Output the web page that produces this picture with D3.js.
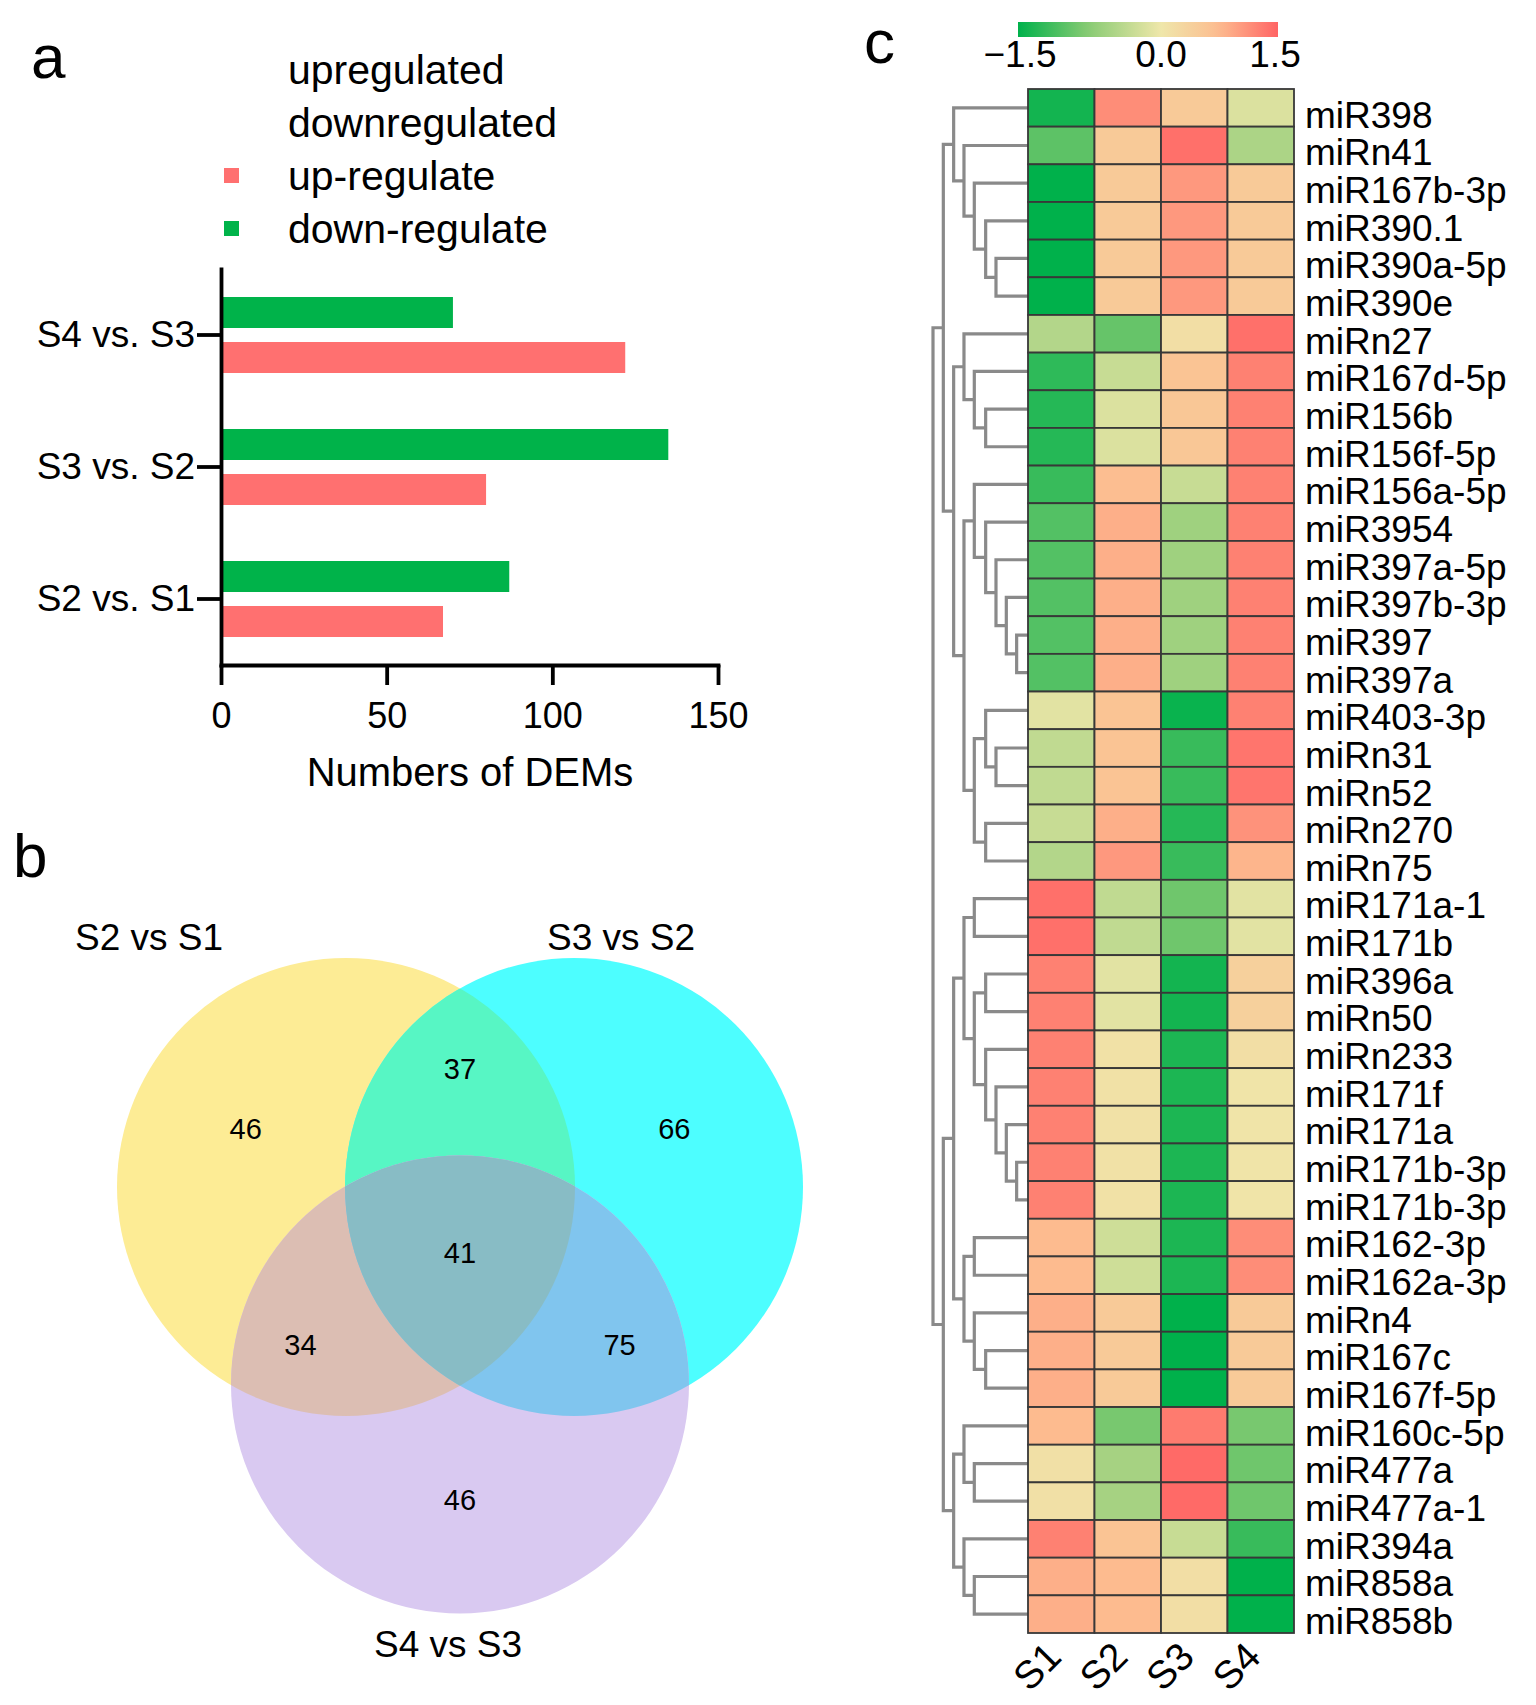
<!DOCTYPE html>
<html><head><meta charset="utf-8">
<script src="https://cdn.jsdelivr.net/npm/d3@7/dist/d3.min.js"></script>
<style>
html,body{margin:0;padding:0;background:#fff;}
svg{display:block;font-family:"Liberation Sans",Arial,Helvetica,sans-serif;}
</style></head><body>
<svg id="fig" width="1536" height="1705"></svg>
<script>
// ================= DATA =================
// Panel a: numbers of differentially expressed miRNAs
const comparisons = ["S4 vs. S3", "S3 vs. S2", "S2 vs. S1"];
const upCounts = [122, 80, 67];
const downCounts = [70, 135, 87];
const xTickValues = [0, 50, 100, 150];
const legendLabels = ["upregulated", "downregulated", "up-regulate", "down-regulate"];
const legendKinds = [null, null, "up", "down"];
const xAxisTitle = "Numbers of DEMs";

// Panel b: Venn diagram
const vennSetNames = ["S2 vs S1", "S3 vs S2", "S4 vs S3"];
const vennRegionKeys = ["A", "B", "C", "AB", "AC", "BC", "ABC"];
const vennRegionCounts = [46, 66, 46, 37, 34, 75, 41];

// Panel c: heatmap of z-scored expression
const samples = ["S1", "S2", "S3", "S4"];
const mirnas = ["miR398","miRn41","miR167b-3p","miR390.1","miR390a-5p","miR390e","miRn27",
  "miR167d-5p","miR156b","miR156f-5p","miR156a-5p","miR3954","miR397a-5p","miR397b-3p",
  "miR397","miR397a","miR403-3p","miRn31","miRn52","miRn270","miRn75","miR171a-1",
  "miR171b","miR396a","miRn50","miRn233","miR171f","miR171a","miR171b-3p","miR171b-3p",
  "miR162-3p","miR162a-3p","miRn4","miR167c","miR167f-5p","miR160c-5p","miR477a",
  "miR477a-1","miR394a","miR858a","miR858b"];
const valuesS1 = [-1.4,-1.0,-1.5,-1.5,-1.5,-1.5,-0.45,-1.25,-1.3,-1.3,-1.2,-1.05,-1.05,-1.05,
  -1.05,-1.05,-0.1,-0.35,-0.35,-0.3,-0.45,1.4,1.4,1.25,1.25,1.25,1.25,1.25,1.25,1.25,
  0.75,0.75,0.85,0.85,0.85,0.75,0.12,0.12,1.25,0.85,0.85];
const valuesS2 = [1.15,0.5,0.5,0.5,0.5,0.5,-0.95,-0.3,-0.15,-0.15,0.7,0.85,0.85,0.85,0.85,
  0.85,0.6,0.6,0.6,0.85,1.05,-0.35,-0.35,-0.1,-0.1,0.1,0.1,0.1,0.1,0.1,-0.25,-0.25,
  0.5,0.5,0.5,-0.85,-0.55,-0.55,0.6,0.75,0.75];
const valuesS3 = [0.5,1.4,1.05,1.05,1.05,1.05,0.15,0.6,0.55,0.55,-0.3,-0.6,-0.6,-0.6,-0.6,
  -0.6,-1.45,-1.2,-1.2,-1.3,-1.2,-0.9,-0.9,-1.4,-1.4,-1.35,-1.35,-1.35,-1.35,-1.35,
  -1.35,-1.35,-1.5,-1.5,-1.5,1.3,1.45,1.45,-0.3,0.15,0.15];
const valuesS4 = [-0.15,-0.5,0.5,0.5,0.5,0.5,1.4,1.25,1.25,1.25,1.25,1.25,1.25,1.25,1.25,
  1.25,1.25,1.35,1.35,1.1,0.8,-0.1,-0.1,0.4,0.4,0.15,0.05,0.05,0.05,0.05,1.15,1.15,
  0.5,0.5,0.5,-0.85,-0.9,-0.9,-1.2,-1.5,-1.5];
const colorTickValues = [-1.5, 0, 1.5];
// Row clustering: [mergeHeight, left, right]; numbers are row indices
const rowTree =
[9.2,
  [8.2,
    [7.2, 0, [6.2, 1, [5.2, 2, [4.1, 3, [3.1, 4, 5]]]]],
    [7.2,
      [6.2, 6, [5.2, 7, [4.1, 8, 9]]],
      [6.2,
        [5.2, 10, [4.1, 11, [3.1, 12, [2.1, 13, [1.1, 14, 15]]]]],
        [5.2, [4.1, 16, [3.1, 17, 18]], [4.1, 19, 20]]]]],
  [8.2,
    [7.2,
      [6.2, [5.2, 21, 22], [5.2, [4.1, 23, 24], [4.1, 25, [3.1, 26, [2.1, 27, [1.1, 28, 29]]]]]],
      [6.2, [5.2, 30, 31], [5.2, 32, [4.1, 33, 34]]]],
    [7.2,
      [6.2, 35, [5.2, 36, 37]],
      [6.2, 38, [5.2, 39, 40]]]]];

// ================= DRAWING =================
const svg = d3.select("#fig");
const RED = "#FF7070", GREEN = "#00B34A";

// panel letters
svg.selectAll("text.panel").data([["a",31,78],["b",13,877],["c",864,63]]).enter()
  .append("text").attr("class","panel")
  .attr("x", d=>d[1]).attr("y", d=>d[2]).attr("font-size", 62).text(d=>d[0]);

// ---------- Panel a ----------
const gA = svg.append("g");
const xBar = d3.scaleLinear().domain([0, 150]).range([221, 718]);
const yCat = d3.scaleBand().domain(comparisons).range([269, 665]);
const barH = 31, barOff = 7;

gA.selectAll("rect.down").data(comparisons).enter().append("rect").attr("class","down")
  .attr("x", xBar(0)).attr("y", d => yCat(d) + yCat.bandwidth()/2 - barOff - barH)
  .attr("width", (d,i) => xBar(downCounts[i]) - xBar(0)).attr("height", barH).attr("fill", GREEN);
gA.selectAll("rect.up").data(comparisons).enter().append("rect").attr("class","up")
  .attr("x", xBar(0)).attr("y", d => yCat(d) + yCat.bandwidth()/2 + barOff)
  .attr("width", (d,i) => xBar(upCounts[i]) - xBar(0)).attr("height", barH).attr("fill", RED);

const xAx = gA.append("g").attr("transform", "translate(0,665)")
  .call(d3.axisBottom(xBar).tickValues(xTickValues).tickFormat(d3.format("d"))
        .tickSize(20).tickSizeOuter(0).tickPadding(17));
const yAx = gA.append("g").attr("transform", "translate(221,0)")
  .call(d3.axisLeft(yCat).tickSize(24).tickSizeOuter(0).tickPadding(2));
[xAx, yAx].forEach(ax => {
  ax.select(".domain").attr("stroke", "#000").attr("stroke-width", 3.8).attr("stroke-linecap","square");
  ax.selectAll(".tick line").attr("stroke", "#000").attr("stroke-width", 3.8);
  ax.selectAll(".tick text").attr("fill", "#000").attr("font-family", null);
});
xAx.selectAll(".tick text").attr("font-size", 36);
yAx.selectAll(".tick text").attr("font-size", 37);

gA.append("text").attr("x", 470).attr("y", 786).attr("text-anchor","middle")
  .attr("font-size", 40).text(xAxisTitle);

// legend
const leg = gA.selectAll("g.leg").data(legendLabels).enter().append("g").attr("class","leg")
  .attr("transform", (d,i) => `translate(0,${84 + i*53})`);
leg.append("text").attr("x", 288).attr("y", 0).attr("font-size", 41).text(d => d);
leg.filter((d,i) => legendKinds[i] !== null).append("rect")
  .attr("x", 224).attr("y", -22).attr("width", 15).attr("height", 15)
  .attr("fill", d => legendKinds[legendLabels.indexOf(d)] === "up" ? RED : GREEN);

// ---------- Panel b (Venn) ----------
const gB = svg.append("g");
const vd = 228, vr = 229, vcx = 460, vcy = 1187;
const centers = {
  A: [vcx - vd/2, vcy],
  B: [vcx + vd/2, vcy],
  C: [vcx, vcy + vd*Math.sin(Math.PI/3)]
};
const regionColor = {A:"#FDEC95", B:"#4DFEFF", C:"#D9C9F1", AB:"#57F6C4", AC:"#DCBEB3", BC:"#80C5EE", ABC:"#88BCC5"};
const defs = svg.append("defs");
["A","B","C"].forEach(k => {
  defs.append("clipPath").attr("id","clip"+k).append("circle")
    .attr("cx", centers[k][0]).attr("cy", centers[k][1]).attr("r", vr);
});
const circ = (g, k, fill) => g.append("circle").attr("cx", centers[k][0]).attr("cy", centers[k][1])
  .attr("r", vr).attr("fill", fill);
circ(gB, "A", regionColor.A);
circ(gB, "B", regionColor.B);
circ(gB.append("g").attr("clip-path","url(#clipA)"), "B", regionColor.AB);
circ(gB, "C", regionColor.C);
circ(gB.append("g").attr("clip-path","url(#clipA)"), "C", regionColor.AC);
circ(gB.append("g").attr("clip-path","url(#clipB)"), "C", regionColor.BC);
circ(gB.append("g").attr("clip-path","url(#clipB)").append("g").attr("clip-path","url(#clipA)"), "C", regionColor.ABC);

const G = [(centers.A[0]+centers.B[0]+centers.C[0])/3, (centers.A[1]+centers.B[1]+centers.C[1])/3];
function regionPos(key) {
  if (key.length === 3) return G;
  if (key.length === 1) { const c = centers[key]; return [G[0] + (c[0]-G[0])*1.88, G[1] + (c[1]-G[1])*1.88]; }
  const other = ["A","B","C"].find(k => !key.includes(k));
  const c = centers[other];
  return [G[0] + (G[0]-c[0])*1.4, G[1] + (G[1]-c[1])*1.4];
}
gB.selectAll("text.cnt").data(vennRegionKeys).enter().append("text").attr("class","cnt")
  .attr("x", d => regionPos(d)[0]).attr("y", d => regionPos(d)[1] + 10)
  .attr("text-anchor","middle").attr("font-size", 29).text((d,i) => vennRegionCounts[i]);

const setLabelPos = [[centers.A[0]-197, vcy - vr - 8], [centers.B[0]+47, vcy - vr - 8], [centers.C[0]-12, centers.C[1] + vr + 44]];
gB.selectAll("text.set").data(vennSetNames).enter().append("text").attr("class","set")
  .attr("x", (d,i) => setLabelPos[i][0]).attr("y", (d,i) => setLabelPos[i][1])
  .attr("text-anchor","middle").attr("font-size", 37).text(d => d);

// ---------- Panel c (heatmap) ----------
const gC = svg.append("g");
const columns = [valuesS1, valuesS2, valuesS3, valuesS4];
const color = d3.scaleLinear().domain([-1.5, -0.75, 0, 0.75, 1.5])
  .range(["#00B14B", "#8BCB74", "#EFE7AA", "#FDBB8F", "#FF6464"]).clamp(true);
const xCol = d3.scaleBand().domain(samples).range([1028, 1294]);
const yRow = d3.scaleBand().domain(d3.range(mirnas.length)).range([89, 1633]);

const cells = [];
mirnas.forEach((m, r) => samples.forEach((s, c) => cells.push({r, s, v: columns[c][r]})));
gC.selectAll("rect.cell").data(cells).enter().append("rect").attr("class","cell")
  .attr("x", d => xCol(d.s)).attr("y", d => yRow(d.r))
  .attr("width", xCol.bandwidth()).attr("height", yRow.bandwidth())
  .attr("fill", d => color(d.v)).attr("stroke", "#383838").attr("stroke-width", 1.8);

gC.selectAll("text.row").data(mirnas).enter().append("text").attr("class","row")
  .attr("x", 1305).attr("y", (d,i) => yRow(i) + yRow.bandwidth() + 1)
  .attr("font-size", 37).text(d => d);

gC.selectAll("text.col").data(samples).enter().append("text").attr("class","col")
  .attr("text-anchor","end").attr("font-size", 39)
  .attr("transform", d => `translate(${xCol(d) + xCol.bandwidth()/2 + 2},${1633 + 26}) rotate(-45)`)
  .text(d => d);

// dendrogram
const root = d3.hierarchy(rowTree, d => Array.isArray(d) ? d.slice(1) : null);
const xDen = d3.scaleLinear().domain([0, 9.2]).range([1028, 933]);
root.eachAfter(n => {
  if (!n.children) { n.h = 0; n.yy = yRow(n.data) + yRow.bandwidth()/2; }
  else { n.h = n.data[0]; n.yy = d3.mean(n.children, c => c.yy); }
});
const internal = root.descendants().filter(n => n.children);
gC.insert("g", "rect.cell").selectAll("path.den").data(internal).enter().append("path").attr("class","den")
  .attr("d", n => {
    const [c1, c2] = n.children;
    return `M${xDen(c1.h)},${c1.yy}H${xDen(n.h)}V${c2.yy}H${xDen(c2.h)}`;
  })
  .attr("fill","none").attr("stroke","#8a8a8a").attr("stroke-width", 3.2);

// color legend
const bx = 1018, bw = 260, by = 22, bh = 15;
const legScale = d3.scaleLinear().domain([-1.5, 0, 1.5]).range([bx, bx + 0.55*bw, bx + bw]);
const grad = defs.append("linearGradient").attr("id","cbar").attr("x1","0%").attr("x2","100%");
d3.range(0, 1.0001, 0.05).forEach(t => {
  grad.append("stop").attr("offset", (t*100)+"%").attr("stop-color", color(legScale.invert(bx + t*bw)));
});
gC.append("rect").attr("x", bx).attr("y", by).attr("width", bw).attr("height", bh).attr("fill","url(#cbar)");
gC.selectAll("text.ctick").data(colorTickValues).enter().append("text").attr("class","ctick")
  .attr("x", d => legScale(d) + (d < 0 ? 2 : d > 0 ? -3 : 0)).attr("y", 67)
  .attr("text-anchor","middle").attr("font-size", 37)
  .text(d => d3.format(".1f")(d).replace("-", "\u2212"));
</script>
</body></html>
